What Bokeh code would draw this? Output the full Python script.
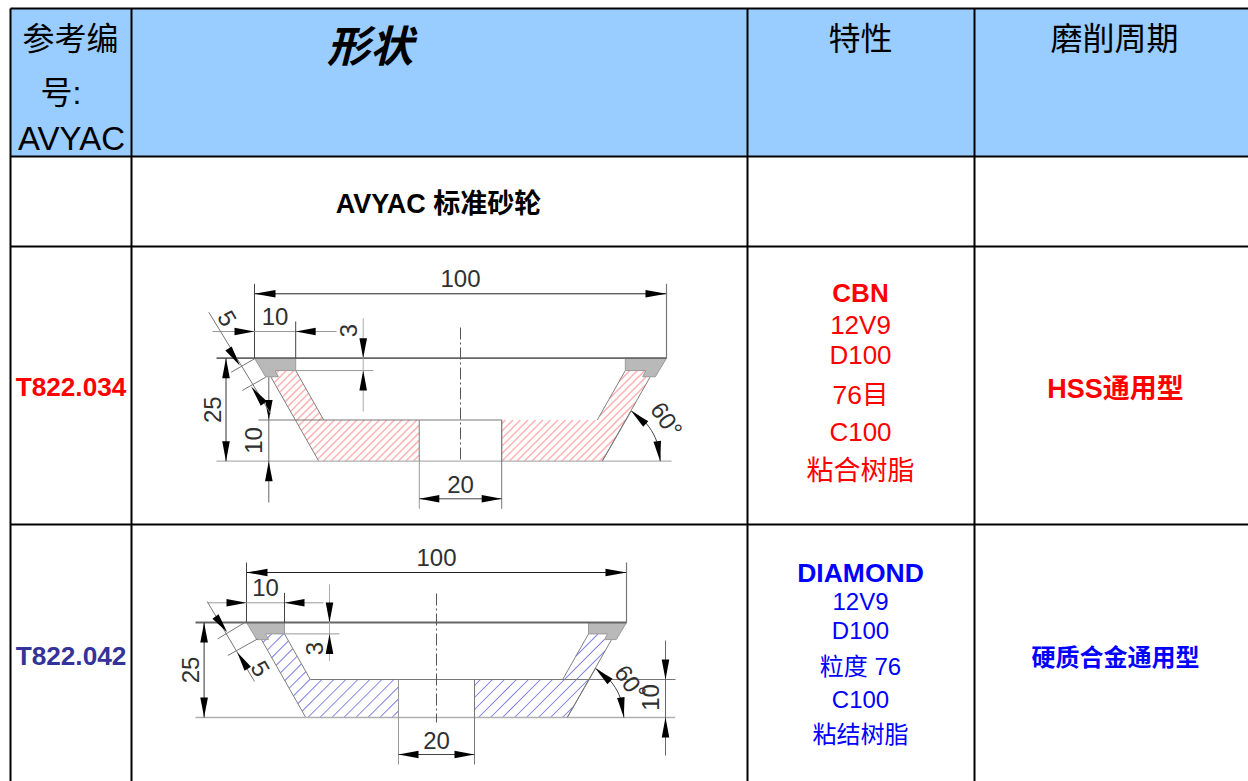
import math
from bokeh.plotting import figure
from bokeh.embed import file_html
from bokeh.resources import INLINE
from bokeh.core.properties import value

# ---- table content
header_code = ["参考编", "号:", "AVYAC"]
header_shape = "形状"
header_prop = "特性"
header_cycle = "磨削周期"
section_title = "AVYAC 标准砂轮"
codes = ["T822.034", "T822.042"]
props_cbn = ["CBN", "12V9", "D100", "76目", "C100", "粘合树脂"]
props_dia = ["DIAMOND", "12V9", "D100", "粒度 76", "C100", "粘结树脂"]
cycles = ["HSS通用型", "硬质合金通用型"]

# ---- wheel dimensions in mm, x from the axis, y up from the base
outer_dia = 100
height = 25
hole_dia = 20
floor_h = 10
rim_w = 10
rim_h = 3
chamfer = 5
angle_label = "60°"
seg_poly = [(-50, 25), (-40, 25), (-40, 22), (-45, 22), (-44.2, 20.5), (-47.3, 20.5)]
body_poly = [(-45, 22), (-40, 22), (-33.2, 10), (-10, 10), (-10, 0), (-34.4, 0), (-46, 20.4), (-44.2, 20.5)]

# ---- layout
X_L, X_1, X_2, X_3 = 10, 131, 747, 974
Y_T, Y_1, Y_2, Y_3 = 8, 156, 246, 524
W, H = 1248, 781
SANS = "Liberation Sans, Noto Sans CJK SC"
BLACK = "#000000"
RED = "#ff0000"
BLUE = "#0000ff"
INDIGO = "#333399"
HEAD = "#99ccff"
INK = "#303030"
DIM = 24

p = figure(width=W, height=H, x_range=(0, W), y_range=(H, 0), toolbar_location=None,
           output_backend="svg", x_axis_type=None, y_axis_type=None, min_border=0,
           outline_line_color=None, background_fill_color="#ffffff", border_fill_color="#ffffff")
p.grid.visible = False

p.quad(left=[X_L, X_1, X_2, X_3], right=[X_1, X_2, X_3, 1248], top=[Y_T] * 4, bottom=[Y_1] * 4,
       fill_color=HEAD, line_color=None)


def text(x, y, s, size, color=BLACK, bold=False, italic=False, angle=0.0, font=SANS):
    style = "bold italic" if bold and italic else "bold" if bold else "italic" if italic else "normal"
    p.text([x], [y], text=[s], text_font=value(font), text_font_size=f"{size}px", text_color=color,
           text_font_style=style, text_align="center", text_baseline="middle", angle=angle)


text(70, 38, header_code[0], 32)
text(60.5, 92, header_code[1], 32)
text(71, 138, header_code[2], 33)
text(369.5, 46, header_shape, 43, bold=True, italic=True)
text(860, 38, header_prop, 32)
text(1114, 38, header_cycle, 32)
text(438, 203, section_title, 27, bold=True)

text(70.5, 386, codes[0], 26.2, RED, bold=True)
text(70.5, 655.5, codes[1], 26.2, INDIGO, bold=True)
for s, y, b, z in zip(props_cbn, [292.5, 324.5, 354.5, 394.5, 431.5, 470.5], [True] + [False] * 5,
                      [26, 26, 26, 26.5, 26, 27]):
    text(860, y, s, z, RED, bold=b)
for s, y, b, z in zip(props_dia, [572.5, 600.5, 629.5, 665.5, 698.5, 733.5], [True] + [False] * 5,
                      [26.5] + [24] * 5):
    text(860, y, s, z, BLUE, bold=b)
text(1115, 388, cycles[0], 27, RED, bold=True)
text(1115, 657, cycles[1], 24, BLUE, bold=True)


def clip_hatch(poly, step):
    """Return 45-degree hatch segments (pixel space) clipped to a polygon."""
    sums = [x + y for x, y in poly]
    out = []
    c = min(sums) + step / 2
    while c < max(sums):
        hits = []
        for (x0, y0), (x1, y1) in zip(poly, poly[1:] + poly[:1]):
            a, b = x0 + y0 - c, x1 + y1 - c
            if a * b < 0:
                t = a / (a - b)
                hits.append((x0 + t * (x1 - x0), y0 + t * (y1 - y0)))
        hits.sort()
        for h0, h1 in zip(hits[0::2], hits[1::2]):
            out.append((h0, h1))
        c += step
    return out


def wheel(cx, base, s, hatch_color, hatch_w, step, dim):
    X = lambda v: cx + v * s
    Y = lambda v: base - v * s
    R = outer_dia / 2 * s
    top = Y(height)
    floor = Y(floor_h)

    def ln(x0, y0, x1, y1, c="#555555", w=1.0, dash="solid"):
        p.line([x0, x1], [y0, y1], line_color=c, line_width=w, line_dash=dash)

    def arrow(tx, ty, bx, by, hw=3.8):
        dx, dy = bx - tx, by - ty
        n = math.hypot(dx, dy)
        ux, uy = -dy / n * hw, dx / n * hw
        p.patch([tx, bx + ux, bx - ux], [ty, by + uy, by - uy], fill_color=BLACK, line_color=None)

    # hatch strokes as thin filled strips
    d = hatch_w / 2 / math.sqrt(2)
    for m in (1, -1):
        for h0, h1 in clip_hatch([(X(m * a), Y(b)) for a, b in body_poly], step):
            p.patch([h0[0] - d, h1[0] - d, h1[0] + d, h0[0] + d],
                    [h0[1] - d, h1[1] - d, h1[1] + d, h0[1] + d],
                    fill_color=hatch_color, line_color=None)
    for m in (1, -1):
        body = [(X(m * a), Y(b)) for a, b in body_poly]
        seg = [(X(m * a), Y(b)) for a, b in seg_poly]
        p.patch([q[0] for q in seg], [q[1] for q in seg], fill_color="#b9b9b9", line_color="#9a9a9a", line_width=1)
        ln(*body[1], *body[2], "#808080")
        ln(*body[5], *body[6], "#808080")
        ln(*body[3], *body[4], "#a0a0a0")

    # main lines
    ln(cx - R - dim["left"], top, cx + R, top, "#666666", 1.8)
    ln(cx - R - dim["left"], base, cx + R + dim["right"], base, "#b0b0b0", 1.3)
    ln(dim["floor_x0"], floor, dim["floor_x1"], floor, "#777777", 1.0)
    ln(cx, dim["cl_top"], cx, base + dim["cl_ext"], "#555555", 1.0, "12 3 2 3")

    # 100
    yd = dim["dia_y"]
    ln(cx - R, yd, cx + R, yd, "#222222")
    ln(cx - R, yd - 10, cx - R, top, "#444444")
    ln(cx + R, yd - 10, cx + R, top, "#777777", 1.2)
    arrow(cx - R, yd, cx - R + 21, yd)
    arrow(cx + R, yd, cx + R - 21, yd)
    text(cx, yd - 15, str(outer_dia), DIM, INK)

    # 10 (rim width)
    y10 = dim["rim_y"]
    xr = X(-outer_dia / 2 + rim_w)
    ln(dim["rim_x0"], y10, dim["rim_x1"], y10, "#999999")
    ln(xr, y10 - 10, xr, top, "#444444")
    arrow(cx - R, y10, cx - R - 20, y10)
    arrow(xr, y10, xr + 20, y10)
    text((cx - R + xr) / 2, y10 - 15, str(rim_w), DIM, INK)

    # 3 (rim height)
    x3 = dim["x3"]
    y3 = Y(height - rim_h)
    ln(x3, top - dim["r3"][0], x3, y3 + dim["r3"][1], "#aaaaaa")
    ln(xr, y3, x3 + 10, y3, "#999999")
    arrow(x3, top, x3, top - 20)
    arrow(x3, y3, x3, y3 + 20)
    text(dim["t3"][0], dim["t3"][1], str(rim_h), DIM, INK, angle=math.pi / 2)

    # 25
    x25 = cx - R - dim["h_off"]
    ln(x25, top, x25, base, "#333333")
    arrow(x25, top, x25, top + 20)
    arrow(x25, base, x25, base - 20)
    text(x25 - 13.5, (top + base) / 2, str(height), DIM, INK, angle=math.pi / 2)

    # 20
    y20 = dim["hole_y"]
    xa, xb = X(-hole_dia / 2), X(hole_dia / 2)
    ln(xa, floor, xa, y20 + 10, "#999999")
    ln(xb, floor, xb, y20 + 10, "#777777")
    ln(xa, y20, xb, y20, "#444444")
    arrow(xa, y20, xa + 20, y20)
    arrow(xb, y20, xb - 20, y20)
    text(cx, y20 - 14, str(hole_dia), DIM, INK)

    # 10 (floor)
    x10 = dim["x10"]
    ln(x10, dim["f0"], x10, dim["f1"], "#666666")
    arrow(x10, floor, x10, floor - 20)
    arrow(x10, base, x10, base + 20)
    text(dim["t10"][0], dim["t10"][1], str(floor_h), DIM, INK, angle=math.pi / 2)

    # 5 (chamfer)
    (a0, b0), (a1, b1) = dim["ch_line"]
    ln(a0, b0, a1, b1, "#777777")
    for (q0, q1) in dim["ch_ext"]:
        ln(q0[0], q0[1], q1[0], q1[1], "#777777")
    for (t, b) in dim["ch_arrows"]:
        arrow(t[0], t[1], b[0], b[1])
    text(dim["t5"][0], dim["t5"][1], str(chamfer), DIM, INK, angle=-math.radians(60))

    # 60 degrees: arc from the base line up to the outer flank
    vx, vy = X(34.4), base
    r = dim["r"]
    deg = [math.radians(d) for d in range(0, 61, 4)]
    p.line([vx + r * math.cos(d) for d in deg], [vy - r * math.sin(d) for d in deg],
           line_color="#444444", line_width=1)
    ex, ey = vx + r * math.cos(math.pi / 3), vy - r * math.sin(math.pi / 3)
    ln(vx, vy, ex, ey, "#777777")
    arrow(ex, ey, ex + 14.5, ey + 13)
    arrow(vx + r, vy, vx + r - 3, vy - 20)
    text(dim["t60"][0], dim["t60"][1], angle_label, DIM, INK, angle=-math.radians(55))


wheel(460, 460.7, 4.12, "#ffb3b3", 1.5, 7.5, dict(
    left=38, right=5, floor_x0=258, floor_x1=501.7, cl_top=327, cl_ext=0,
    dia_y=293.3, rim_y=331, rim_x0=212, rim_x1=336, x3=362.7, r3=(40, 41), t3=(348, 330), h_off=28.5,
    hole_y=498.3, x10=268.3, f0=376.7, f1=502, t10=(253, 440),
    ch_line=((208.3, 311.7), (270, 413)),
    ch_ext=(((254, 358.3), (230.7, 371.7)), ((265.3, 376.7), (241.7, 390))),
    ch_arrows=(((239.3, 365), (228, 348)), ((250.7, 386), (263.3, 403))),
    t5=(226.7, 317.7), r=58, t60=(666, 419)))
wheel(436, 717, 3.8, "#7d7de6", 1.0, 12, dict(
    left=51, right=48.7, floor_x0=310, floor_x1=675, cl_top=593, cl_ext=5,
    dia_y=572, rim_y=602.3, rim_x0=207, rim_x1=323, x3=329, r3=(38, 27), t3=(314, 648), h_off=42.4,
    hole_y=754, x10=665, f0=640, f1=755, t10=(650, 697),
    ch_line=((206.7, 601), (254, 681)),
    ch_ext=(((246, 621), (217.3, 638.3)), ((257.3, 638.3), (227.3, 655))),
    ch_arrows=(((226.7, 631.7), (215, 616)), ((236.7, 651.7), (247.3, 668.3))),
    t5=(260, 668), r=56.6, t60=(630, 682)))

# grid lines
gv = [X_L, X_1, X_2, X_3]
p.segment(x0=gv, y0=[Y_T] * 4, x1=gv, y1=[781] * 4, line_color=BLACK, line_width=2)
gh = [Y_T, Y_1, Y_2, Y_3]
p.segment(x0=[X_L] * 4, y0=gh, x1=[1248] * 4, y1=gh, line_color=BLACK, line_width=2)

open("out.html", "w").write(file_html(p, INLINE))
